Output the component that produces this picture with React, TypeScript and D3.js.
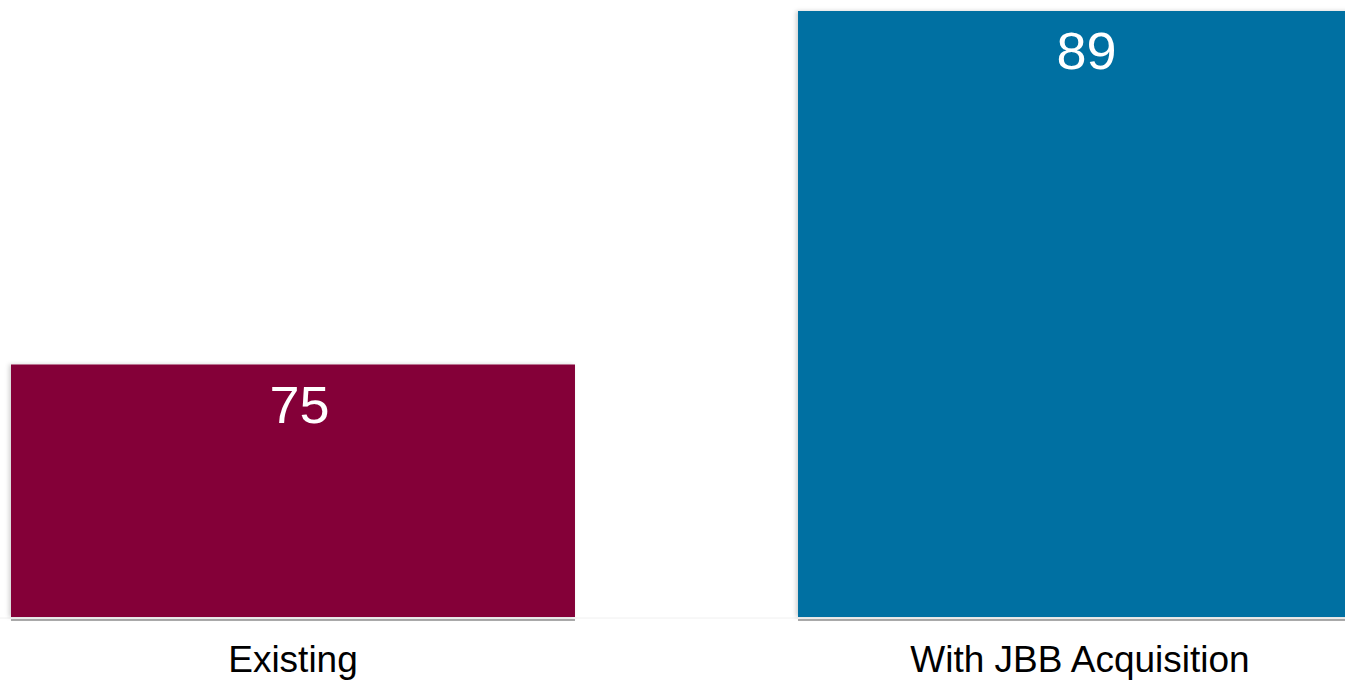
import React from "react";
import * as d3 from "d3";

const categories = ["Existing", "With JBB Acquisition"];
const values = [75, 89];
const colors = ["#840037", "#0070A2"];

const W = 1345;
const H = 681;

export default function App() {
  const x = d3.scaleBand<string>().domain(categories).range([11, 1362]).paddingInner(0.2834).paddingOuter(0);
  const y = d3.scaleLinear().domain([65, 89]).range([617, 11]);
  const bw = x.bandwidth();
  return (
    <svg width={W} height={H} style={{ position: "absolute", left: 0, top: 0, fontFamily: "Liberation Sans, Arial, sans-serif" }}>
      <defs>
        <filter id="sh" x="-5%" y="-5%" width="110%" height="110%">
          <feDropShadow dx="-2" dy="0" stdDeviation="2" floodColor="#000" floodOpacity="0.18" />
        </filter>
      </defs>
      <rect x={0} y={0} width={W} height={H} fill="#fff" />
      <line x1={0} x2={W} y1={618} y2={618} stroke="#f0f0f0" strokeWidth={1} />
      {categories.map((c, i) => (
        <g key={c}>
          <rect x={x(c)!} y={619} width={bw} height={2} fill="#aaaaaa" />
          <rect x={x(c)!} y={y(values[i])} width={bw} height={y(65) - y(values[i])} fill={colors[i]} filter="url(#sh)" />
          <text
            transform={`translate(${x(c)! + bw / 2 + 6.5},${y(values[i]) + 58}) scale(1.06,1)`}
            textAnchor="middle"
            fill="#fff"
            fontSize={51}
          >
            {values[i]}
          </text>
          <text x={x(c)! + bw / 2} y={672} textAnchor="middle" fill="#000" fontSize={37}>
            {c}
          </text>
        </g>
      ))}
    </svg>
  );
}
